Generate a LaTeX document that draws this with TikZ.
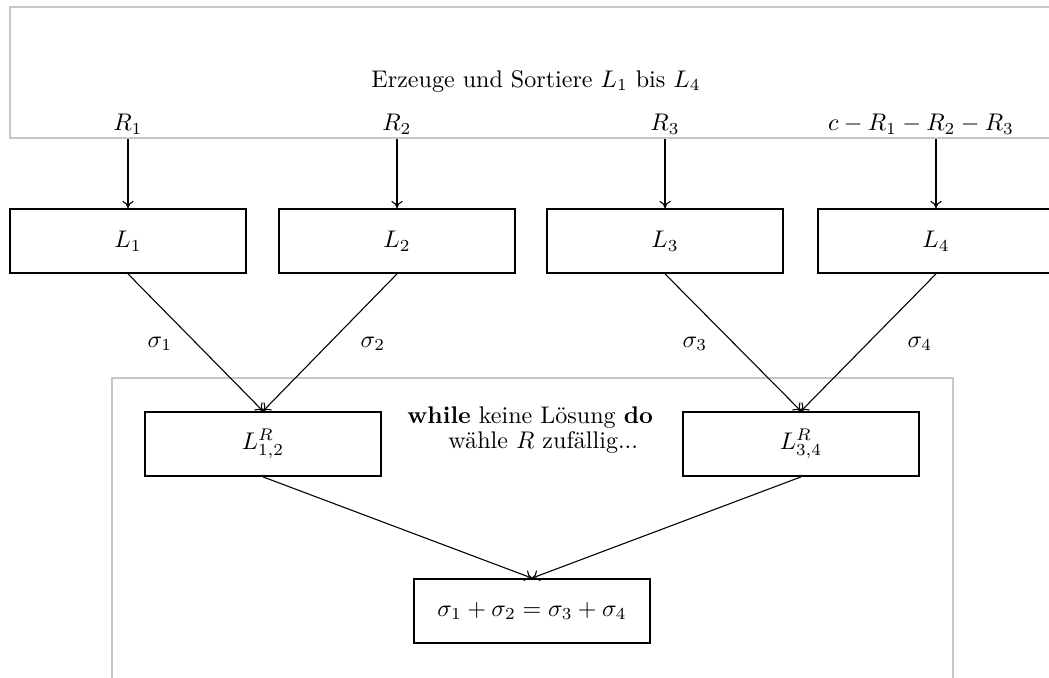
\documentclass[tikz,border=0pt]{standalone}
\usetikzlibrary{arrows.meta}
\begin{document}
\begin{tikzpicture}[x=0.0146cm,y=-0.0146cm,
  frame/.style={draw=black!22, line width=0.65pt},
  lbox/.style={draw=black, line width=0.75pt, minimum width=3.445cm, minimum height=0.934cm, inner sep=0pt},
  conn/.style={draw=black, line width=0.45pt, -{To[length=3pt,width=4.7pt]}},
  lbl/.style={inner sep=0pt}]
\clip (0,0) rectangle (1049,677);
\fill[white] (0,0) rectangle (1049,677);
% frames
\draw[frame] (1100,7) -- (10,7) -- (10,138) -- (1100,138);
\draw[frame] (112,700) -- (112,378) -- (953,378) -- (953,700);
% texts in top frame
\node[lbl] (title) at (536,81) {Erzeuge und Sortiere $L_1$ bis $L_4$};
\node[lbl] (r1) at (128,124) {$R_1$};
\node[lbl] (r2) at (397,124) {$R_2$};
\node[lbl] (r3) at (665,124) {$R_3$};
\node[lbl] (r4) at (921,124) {$c-R_1-R_2-R_3$};
\coordinate (a1) at (128,139);
\coordinate (a2) at (397,139);
\coordinate (a3) at (665,139);
\coordinate (a4) at (936,139);
% boxes
\node[lbox] (L1) at (128,241) {$L_1$};
\node[lbox] (L2) at (397,241) {$L_2$};
\node[lbox] (L3) at (665,241) {$L_3$};
\node[lbox] (L4) at (936,241) {$L_4$};
\node[lbox] (L12) at (263,444) {$L^R_{1,2}$};
\node[lbox] (L34) at (801,444) {$L^R_{3,4}$};
\node[lbox] (S) at (532,611) {$\sigma_1+\sigma_2=\sigma_3+\sigma_4$};
% sigma labels
\node[lbl] (s1) at (160,344) {$\sigma_1$};
\node[lbl] (s2) at (373,344) {$\sigma_2$};
\node[lbl] (s3) at (695,344) {$\sigma_3$};
\node[lbl] (s4) at (920,344) {$\sigma_4$};
% while text
\node[lbl, anchor=base west] (w1) at (407,423) {\textbf{while} keine Lösung \textbf{do}};
\node[lbl, anchor=base west] (w2) at (448,448) {wähle $R$ zufällig...};
% connectors
\draw[conn] (a1) -- (L1.north);
\draw[conn] (a2) -- (L2.north);
\draw[conn] (a3) -- (L3.north);
\draw[conn] (a4) -- (L4.north);
\draw[conn] (L1.south) -- (L12.north);
\draw[conn] (L2.south) -- (L12.north);
\draw[conn] (L3.south) -- (L34.north);
\draw[conn] (L4.south) -- (L34.north);
\draw[conn] (L12.south) -- (S.north);
\draw[conn] (L34.south) -- (S.north);
\end{tikzpicture}
\end{document}
